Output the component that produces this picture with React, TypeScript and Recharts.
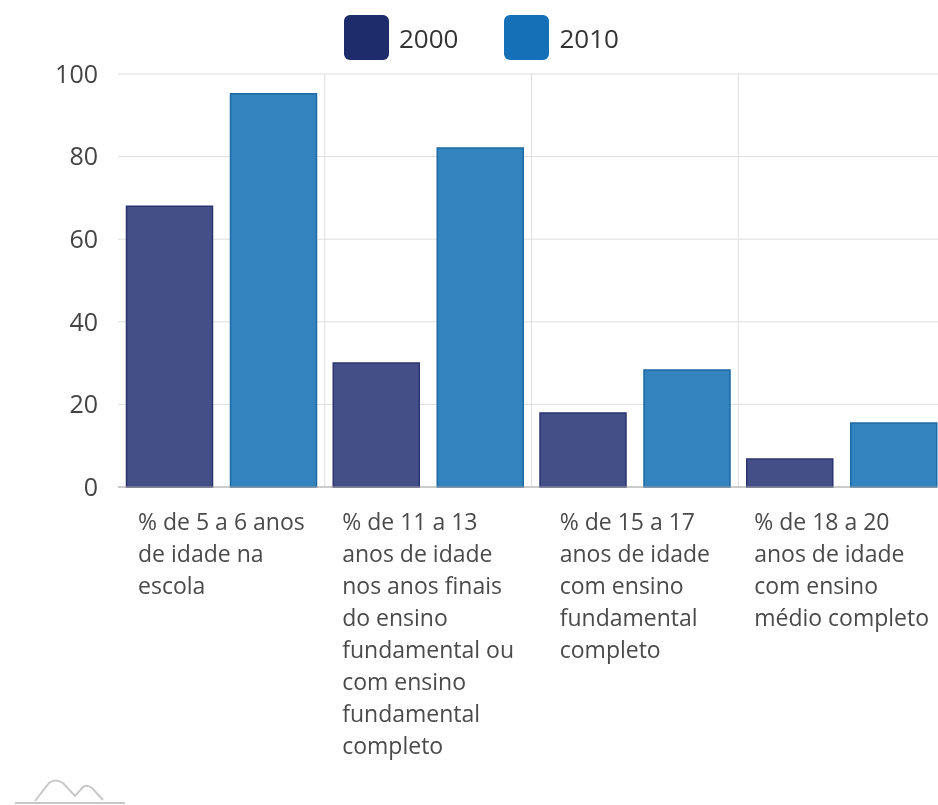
import React from "react";
import {
  BarChart,
  Bar,
  XAxis,
  YAxis,
  CartesianGrid,
  Legend,
} from "recharts";

// categories and their wrapped label lines
const categories = ["c1", "c2", "c3", "c4"];
const labelLines = [
  ["% de 5 a 6 anos", "de idade na", "escola"],
  [
    "% de 11 a 13",
    "anos de idade",
    "nos anos finais",
    "do ensino",
    "fundamental ou",
    "com ensino",
    "fundamental",
    "completo",
  ],
  ["% de 15 a 17", "anos de idade", "com ensino", "fundamental", "completo"],
  ["% de 18 a 20", "anos de idade", "com ensino", "médio completo"],
];
const values2000 = [68, 30, 17.9, 6.8];
const values2010 = [95.2, 82.1, 28.3, 15.5];
const yTicks = [0, 20, 40, 60, 80, 100];

const data = categories.map((c, i) => ({
  name: c,
  y2000: values2000[i],
  y2010: values2010[i],
}));

const FONT = "'Open Sans', sans-serif";
const LABEL_SIZE = 23;

let ctx: CanvasRenderingContext2D | null = null;
const measure = (s: string) => {
  if (!ctx) ctx = document.createElement("canvas").getContext("2d");
  if (!ctx) return s.length * LABEL_SIZE * 0.5;
  ctx.font = `${LABEL_SIZE}px 'Open Sans'`;
  return ctx.measureText(s).width;
};

const CategoryTick = (props: any) => {
  const { x, y, payload } = props;
  const lines = labelLines[payload.index] || [];
  const w = Math.max(...lines.map(measure));
  const left = x - w / 2;
  return (
    <g>
      <text
        x={left}
        y={y}
        fill="#4a4a4a"
        fontSize={LABEL_SIZE}
        fontFamily={FONT}
        textAnchor="start"
      >
        {lines.map((l, i) => (
          <tspan key={i} x={left} dy={i === 0 ? 43 : 32}>
            {l}
          </tspan>
        ))}
      </text>
    </g>
  );
};

const legendItems = [
  { label: "2000", color: "#1f2c6c" },
  { label: "2010", color: "#1670b7" },
];

const LegendContent = () => (
  <div
    style={{
      height: 59,
      display: "flex",
      alignItems: "flex-start",
      paddingLeft: 335,
      fontFamily: FONT,
    }}
  >
    {legendItems.map((it) => (
      <div
        key={it.label}
        style={{ display: "flex", alignItems: "center", marginRight: 46 }}
      >
        <div
          style={{
            width: 45,
            height: 45,
            borderRadius: 6,
            background: it.color,
            marginRight: 10,
          }}
        />
        <span style={{ fontSize: 26, color: "#333" }}>{it.label}</span>
      </div>
    ))}
  </div>
);

export default function App() {
  return (
    <div
      style={{
        position: "fixed",
        left: 8,
        top: 8,
        width: 930,
        height: 797,
        overflow: "hidden",
        fontFamily: FONT,
      }}
    >
      <BarChart
        width={950}
        height={789}
        data={data}
        margin={{ top: 7, right: 13, bottom: 19, left: 1 }}
        barCategoryGap={8.5}
        barGap={18}
      >
        <CartesianGrid
          stroke="#dedede"
          verticalCoordinatesGenerator={({ offset }: any) =>
            [1, 2, 3].map(
              (i) => offset.left + (i * offset.width) / categories.length
            )
          }
        />
        <Legend verticalAlign="top" content={<LegendContent />} />
        <XAxis
          dataKey="name"
          height={291}
          tickLine={false}
          tickSize={0}
          tickMargin={0}
          axisLine={{ stroke: "#aaa" }}
          tick={<CategoryTick />}
          interval={0}
        />
        <YAxis
          width={109}
          domain={[0, 100]}
          ticks={yTicks}
          axisLine={false}
          tickLine={false}
          tickMargin={14}
          tick={{ fontSize: 25, fill: "#444", fontFamily: FONT }}
        />
        <Bar
          dataKey="y2000"
          fill="#444f87"
          stroke="#2b3470"
          strokeWidth={1.5}
          isAnimationActive={false}
        />
        <Bar
          dataKey="y2010"
          fill="#3283be"
          stroke="#1e6aa4"
          strokeWidth={1.5}
          isAnimationActive={false}
        />
      </BarChart>
      <svg
        width={112}
        height={36}
        style={{ position: "absolute", left: 7, top: 762 }}
      >
        <path
          d="M 20 31 L 34 13 Q 40 8 48 13 L 60 26 L 68 17 Q 72 14 77 18 L 88 30"
          fill="none"
          stroke="#c8c8c8"
          strokeWidth={2}
        />
        <line x1={0} y1={33} x2={110} y2={33} stroke="#c8c8c8" strokeWidth={2} />
      </svg>
    </div>
  );
}
